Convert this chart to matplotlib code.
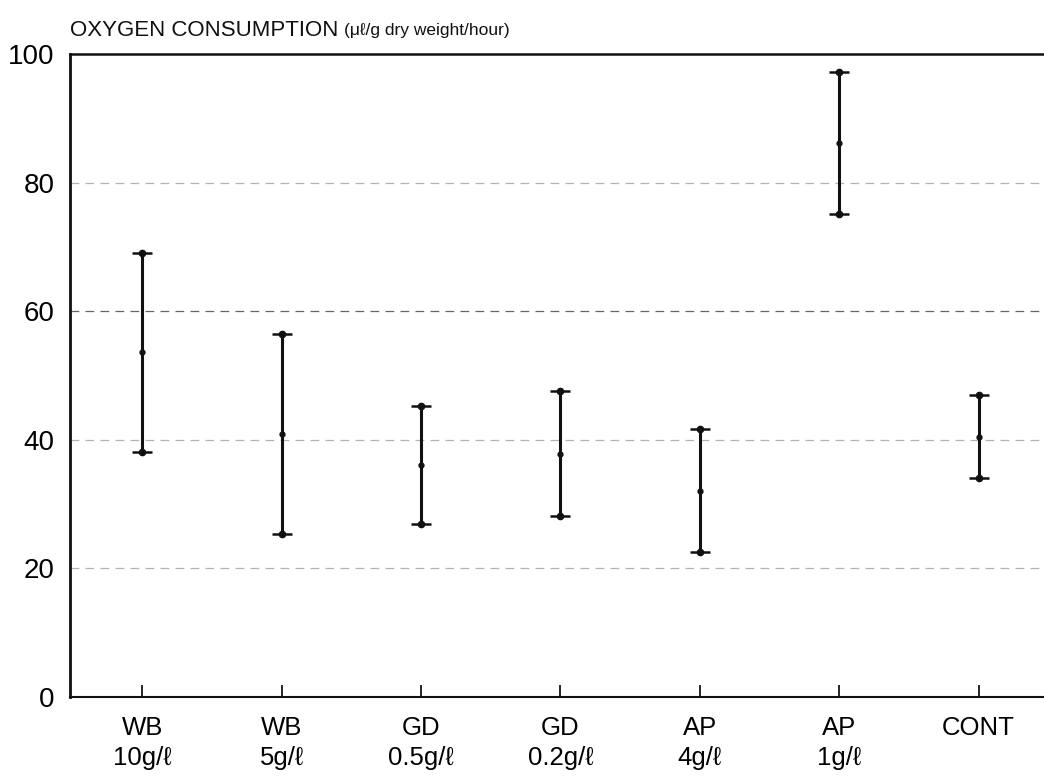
import matplotlib
matplotlib.use("Agg")
import matplotlib.pyplot as plt
import numpy as np

plt.rcParams['font.family'] = ['Liberation Sans', 'DejaVu Sans']

categories = ["WB\n10g/ℓ", "WB\n5g/ℓ", "GD\n0.5g/ℓ", "GD\n0.2g/ℓ", "AP\n4g/ℓ", "AP\n1g/ℓ", "CONT"]
means = [53.7, 40.9, 36.1, 37.8, 32.1, 86.1, 40.4]
lows = [38.1, 25.3, 26.9, 28.1, 22.5, 75.1, 34.1]
highs = [69.1, 56.4, 45.3, 47.6, 41.7, 97.2, 47.0]
y_ticks = [0, 20, 40, 60, 80, 100]
grid_levels = [20, 40, 60, 80]

fig = plt.figure(figsize=(10.44, 7.79), dpi=100)
ax = fig.add_axes([70/1044, 82/779, 1 - 70/1044, (697-54)/779])

x = np.arange(len(categories))
m = np.array(means); lo = np.array(lows); hi = np.array(highs)

for g in grid_levels:
    ax.axhline(g, color='0.7' if g != 60 else '0.4', lw=0.9,
               linestyle=(0, (7, 5)), zorder=0)

ax.errorbar(x, m, yerr=[m - lo, hi - m], fmt='o', ms=3.5, color='#111111',
            ecolor='#111111', elinewidth=2.2, capsize=7.5, capthick=1.8, zorder=3)
ax.plot(x, lo, 'o', ms=4.5, color='#111111', zorder=4)
ax.plot(x, hi, 'o', ms=4.5, color='#111111', zorder=4)

ax.set_xlim(-0.52, 6.47)
ax.set_ylim(0, 100)
ax.set_yticks(y_ticks)
ax.set_xticks(x)
ax.set_xticklabels(categories, fontsize=18.5, linespacing=1.3, va='top')
ax.tick_params(axis='y', length=0, pad=11, labelsize=20)
ax.tick_params(axis='x', direction='in', length=9, width=1.2, pad=14)

ax.spines['right'].set_visible(False)
ax.spines['left'].set_linewidth(2.0)
ax.spines['bottom'].set_linewidth(1.5)
ax.spines['top'].set_linewidth(1.8)
for s in ax.spines.values():
    s.set_color('#111111')

t1 = fig.text(70/1044, 1 - 31/779, "OXYGEN CONSUMPTION ", fontsize=16,
              va='center', ha='left', color='#111111')
fig.canvas.draw()
bb = t1.get_window_extent()
fig.text(bb.x1 / fig.bbox.width, 1 - 30/779, "(μℓ/g dry weight/hour)", fontsize=12.5,
         va='center', ha='left', color='#111111')

fig.savefig("out.png", dpi=100)
